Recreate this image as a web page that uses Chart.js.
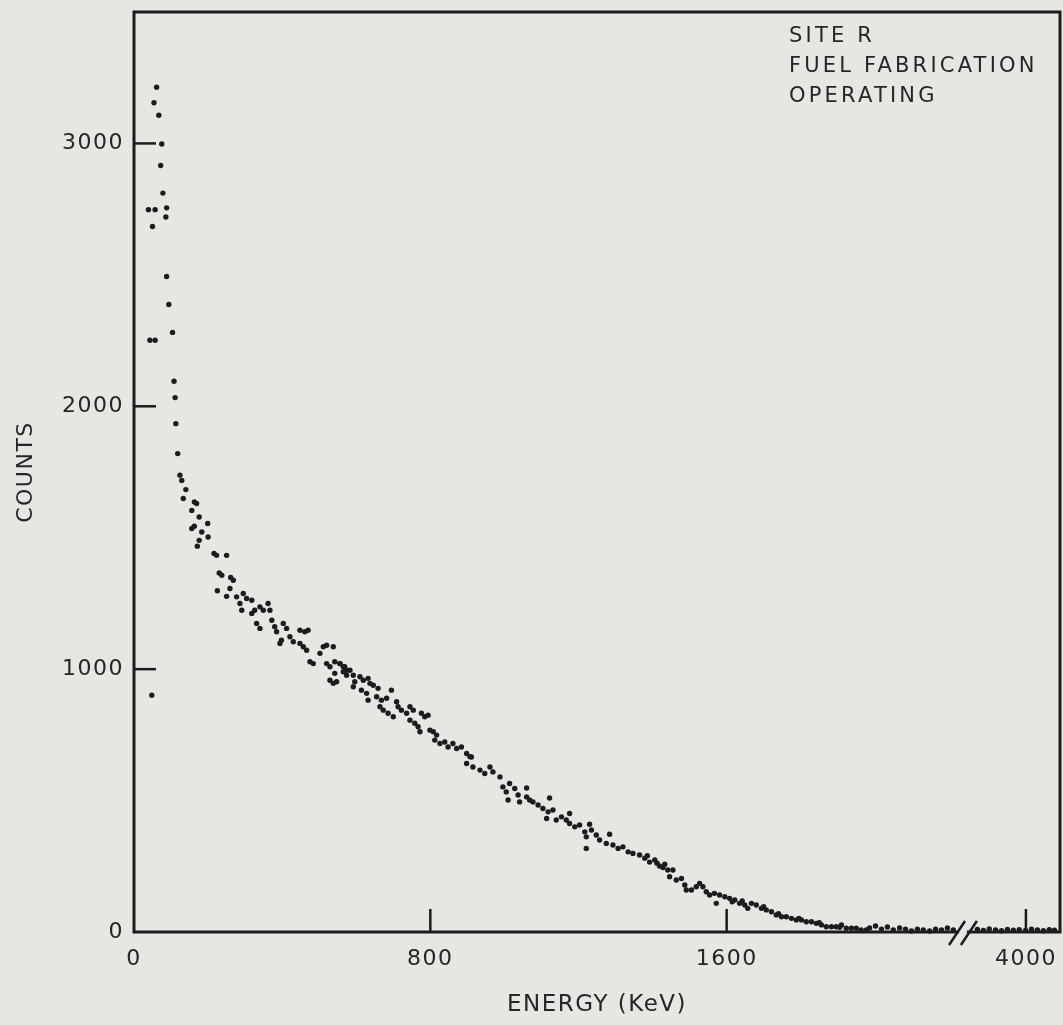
<!DOCTYPE html>
<html>
<head>
<meta charset="utf-8">
<title>Site R - Fuel Fabrication - Operating</title>
<script src="https://cdn.jsdelivr.net/npm/chart.js@4.4.1/dist/chart.umd.min.js"></script>
<style>
    html, body { margin: 0; padding: 0; background: #e6e6e3; }
    canvas { display: block; }
</style>
</head>
<body>
<canvas id="spectrumChart" width="1063" height="1025"></canvas>
<script>
// Energy (keV) and counts
const energyKeV = [
    61, 54, 67, 75, 72, 78, 39, 57, 88, 86, 50, 88, 94, 104, 43, 57, 108, 111, 113, 118,
    124, 129, 140, 133, 163, 169, 156, 176, 199, 156, 163, 183, 200, 176, 171, 216, 223, 250, 230, 237,
    261, 268, 225, 250, 259, 277, 295, 304, 318, 286, 291, 326, 340, 349, 318, 362, 367, 331, 340, 372,
    380, 385, 403, 412, 398, 394, 421, 430, 448, 461, 470, 448, 457, 466, 475, 484, 502, 511, 520, 538,
    520, 529, 529, 538, 556, 565, 574, 48,
    542, 556, 569, 583, 542, 547, 565, 574, 592, 596, 592, 610, 619, 632, 637, 646, 659, 614, 628, 632,
    655, 668, 682, 695, 664, 673, 686, 700, 709, 713, 722, 736, 745, 754, 745, 758, 767, 772, 776, 785,
    794, 799, 808, 817, 812, 826, 839, 848, 861, 871, 884, 898, 911,
    898, 907, 915, 934, 947, 961, 969, 988,
    996, 1005, 1010, 1028, 1037, 1041, 1060, 1068, 1077, 1091, 1104, 1118, 1114, 1131, 1140, 1154, 1167, 1176, 1190, 1203,
    1217, 1221, 1235, 1248, 1257, 1275, 1293, 1307, 1320, 1334, 1347, 1365, 1221,
    1014, 1060, 1122, 1176, 1230, 1284,
    1379, 1392, 1406, 1419, 1433, 1441, 1386, 1412, 1428,
    1455, 1446, 1464, 1478, 1487, 1491, 1505, 1518, 1527, 1536, 1545, 1554, 1567, 1572, 1581, 1595, 1608, 1622, 1635, 1649,
    1657, 1667, 1680, 1694, 1707, 1721, 1734, 1748, 1761, 1775, 1788, 1802, 1815, 1829, 1842, 1856, 1869, 1883, 1896, 1910,
    1923, 1937, 1950, 1963, 1977,
    1615, 1642, 1700, 1740, 1795, 1850, 1905,
    1986, 2002, 2018, 2034, 2050, 2067, 2083, 2099, 2115, 2131, 2148, 2164, 2180, 2196, 2212,
    3869, 3885, 3901, 3918, 3934, 3950, 3966, 3982, 3999, 4015, 4031, 4047, 4063, 4077
];
const counts = [
    3214, 3155, 3107, 2998, 2916, 2811, 2748, 2748, 2755, 2720, 2684, 2494, 2387, 2281, 2251, 2251, 2095, 2033, 1934, 1820,
    1738, 1718, 1683, 1649, 1636, 1630, 1604, 1579, 1554, 1535, 1544, 1522, 1503, 1490, 1468, 1440, 1433, 1433, 1366, 1357,
    1349, 1338, 1298, 1277, 1307, 1275, 1288, 1269, 1262, 1250, 1224, 1224, 1237, 1224, 1212, 1250, 1224, 1174, 1155, 1186,
    1161, 1142, 1174, 1155, 1110, 1098, 1123, 1104, 1148, 1142, 1148, 1098, 1085, 1072, 1028, 1021, 1060, 1085, 1091, 1085,
    1021, 1009, 958, 946, 1021, 1009, 996, 901,
    1028, 1021, 1009, 996, 984, 952, 990, 977, 977, 952, 933, 971, 958, 965, 946, 939, 927, 920, 908, 882,
    895, 882, 889, 920, 857, 844, 832, 819, 876, 857, 844, 832, 857, 844, 806, 794, 781, 762, 832, 819,
    825, 768, 762, 749, 730, 717, 723, 704, 717, 698, 704, 679, 666,
    641, 667, 628, 616, 603, 628, 609, 590,
    552, 533, 502, 546, 521, 495, 514, 502, 495, 483, 470, 457, 432, 464, 426, 438, 426, 413, 400, 407,
    381, 362, 388, 369, 350, 337, 331, 318, 324, 305, 299, 293, 318,
    565, 548, 510, 451, 410, 372,
    281, 266, 274, 251, 258, 236, 290, 262, 245,
    236, 210, 198, 204, 179, 160, 160, 172, 185, 172, 153, 141, 147, 109, 141, 134, 128, 122, 109, 103,
    90, 109, 103, 90, 84, 77, 65, 58, 58, 52, 46, 46, 39, 39, 33, 27, 20, 20, 20, 27,
    14, 14, 14, 8, 8,
    115, 118, 96, 70, 52, 35, 18,
    15, 23, 11, 19, 8, 15, 11, 4, 11, 8, 4, 11, 8, 15, 8,
    10, 6, 12, 8, 5, 10, 7, 9, 6, 11, 8, 5, 9, 7
];

const xTickLabels = [0, 800, 1600, 4000];
const yTickValues = [0, 1000, 2000, 3000];
const noteLines = ["SITE R", "FUEL FABRICATION", "OPERATING"];

// broken energy axis: everything past the break is shifted left
const breakFrom = 3000;
const breakShift = 1592;
const breakMarks = [2222, 2254];

function toAxis(e) {
    return e > breakFrom ? e - breakShift : e;
}

const points = energyKeV.map((e, i) => ({ x: toAxis(e), y: counts[i] }));
const paper = "#e6e6e3";
const ink = "#1c1c1c";
const textInk = "#262626";

const framePlugin = {
    id: "frame",
    beforeUpdate(chart) {
        chart.ctx.letterSpacing = "1.5px";
    },
    beforeDraw(chart) {
        chart.ctx.letterSpacing = "1.5px";
    },
    beforeDatasetsDraw(chart) {
        const ctx = chart.ctx;
        const a = chart.chartArea;
        const xs = chart.scales.x;
        const ys = chart.scales.y;
        ctx.save();
        ctx.strokeStyle = ink;
        ctx.lineWidth = 3;
        ctx.strokeRect(a.left, a.top, a.right - a.left, a.bottom - a.top);

        // inward tick marks
        ctx.lineWidth = 2.5;
        yTickValues.slice(1).forEach(v => {
            const py = ys.getPixelForValue(v);
            ctx.beginPath();
            ctx.moveTo(a.left, py);
            ctx.lineTo(a.left + 22, py);
            ctx.stroke();
        });
        xTickLabels.slice(1).forEach(v => {
            const px = xs.getPixelForValue(toAxis(v));
            ctx.beginPath();
            ctx.moveTo(px, a.bottom);
            ctx.lineTo(px, a.bottom - 23);
            ctx.stroke();
        });

        // gap in the axis line between the break marks
        const b0 = xs.getPixelForValue(breakMarks[0]);
        const b1 = xs.getPixelForValue(breakMarks[1]);
        ctx.fillStyle = paper;
        ctx.fillRect(b0 + 2, a.bottom - 3, b1 - b0 - 4, 6);
        ctx.restore();
    },
    afterDraw(chart) {
        const ctx = chart.ctx;
        const a = chart.chartArea;
        const xs = chart.scales.x;
        ctx.save();
        ctx.strokeStyle = ink;
        ctx.lineWidth = 2.5;
        breakMarks.forEach(v => {
            const px = xs.getPixelForValue(v);
            ctx.beginPath();
            ctx.moveTo(px - 8, a.bottom + 13);
            ctx.lineTo(px + 8, a.bottom - 11);
            ctx.stroke();
        });

        ctx.fillStyle = textInk;
        ctx.font = "21px 'DejaVu Sans'";
        ctx.letterSpacing = "3.2px";
        ctx.textBaseline = "alphabetic";
        ctx.textAlign = "left";
        noteLines.forEach((line, i) => {
            ctx.fillText(line, 789, 42 + i * 30);
        });
        ctx.restore();
    }
};

new Chart(document.getElementById("spectrumChart"), {
    type: "scatter",
    data: {
        datasets: [{
            label: "Counts",
            data: points,
            pointRadius: 2.7,
            pointHoverRadius: 2.7,
            pointBackgroundColor: ink,
            pointBorderWidth: 0,
            clip: false
        }]
    },
    options: {
        responsive: false,
        animation: false,
        layout: {
            padding: { top: 12, right: 3, left: 0, bottom: 0 }
        },
        plugins: {
            legend: { display: false },
            tooltip: { enabled: false }
        },
        scales: {
            x: {
                type: "linear",
                min: 0,
                max: 2500,
                grid: { display: false, drawTicks: false },
                border: { display: false },
                afterBuildTicks: scale => {
                    scale.ticks = xTickLabels.map(v => ({ value: toAxis(v) }));
                },
                afterFit: scale => {
                    scale.height = 93;
                    scale.paddingLeft = 0;
                    scale.paddingRight = 0;
                },
                ticks: {
                    padding: 14,
                    color: textInk,
                    font: { family: "'DejaVu Sans'", size: 22 },
                    maxRotation: 0,
                    callback: function (value) {
                        const i = xTickLabels.findIndex(v => toAxis(v) === value);
                        return i >= 0 ? String(xTickLabels[i]) : "";
                    }
                },
                title: {
                    display: true,
                    text: "ENERGY (KeV)",
                    color: textInk,
                    font: { family: "'DejaVu Sans'", size: 23 },
                    padding: { top: 0, bottom: 6 }
                }
            },
            y: {
                min: 0,
                max: 3500,
                grid: { display: false, drawTicks: false },
                border: { display: false },
                afterBuildTicks: scale => {
                    scale.ticks = yTickValues.map(v => ({ value: v }));
                },
                afterFit: scale => {
                    scale.width = 134;
                    scale.paddingTop = 0;
                    scale.paddingBottom = 0;
                },
                ticks: {
                    padding: 10,
                    color: textInk,
                    font: { family: "'DejaVu Sans'", size: 22 },
                    callback: value => String(value)
                },
                title: {
                    display: true,
                    text: "COUNTS",
                    color: textInk,
                    font: { family: "'DejaVu Sans'", size: 22 },
                    padding: { top: 13, bottom: 0 }
                }
            }
        }
    },
    plugins: [framePlugin]
});
</script>
</body>
</html>
